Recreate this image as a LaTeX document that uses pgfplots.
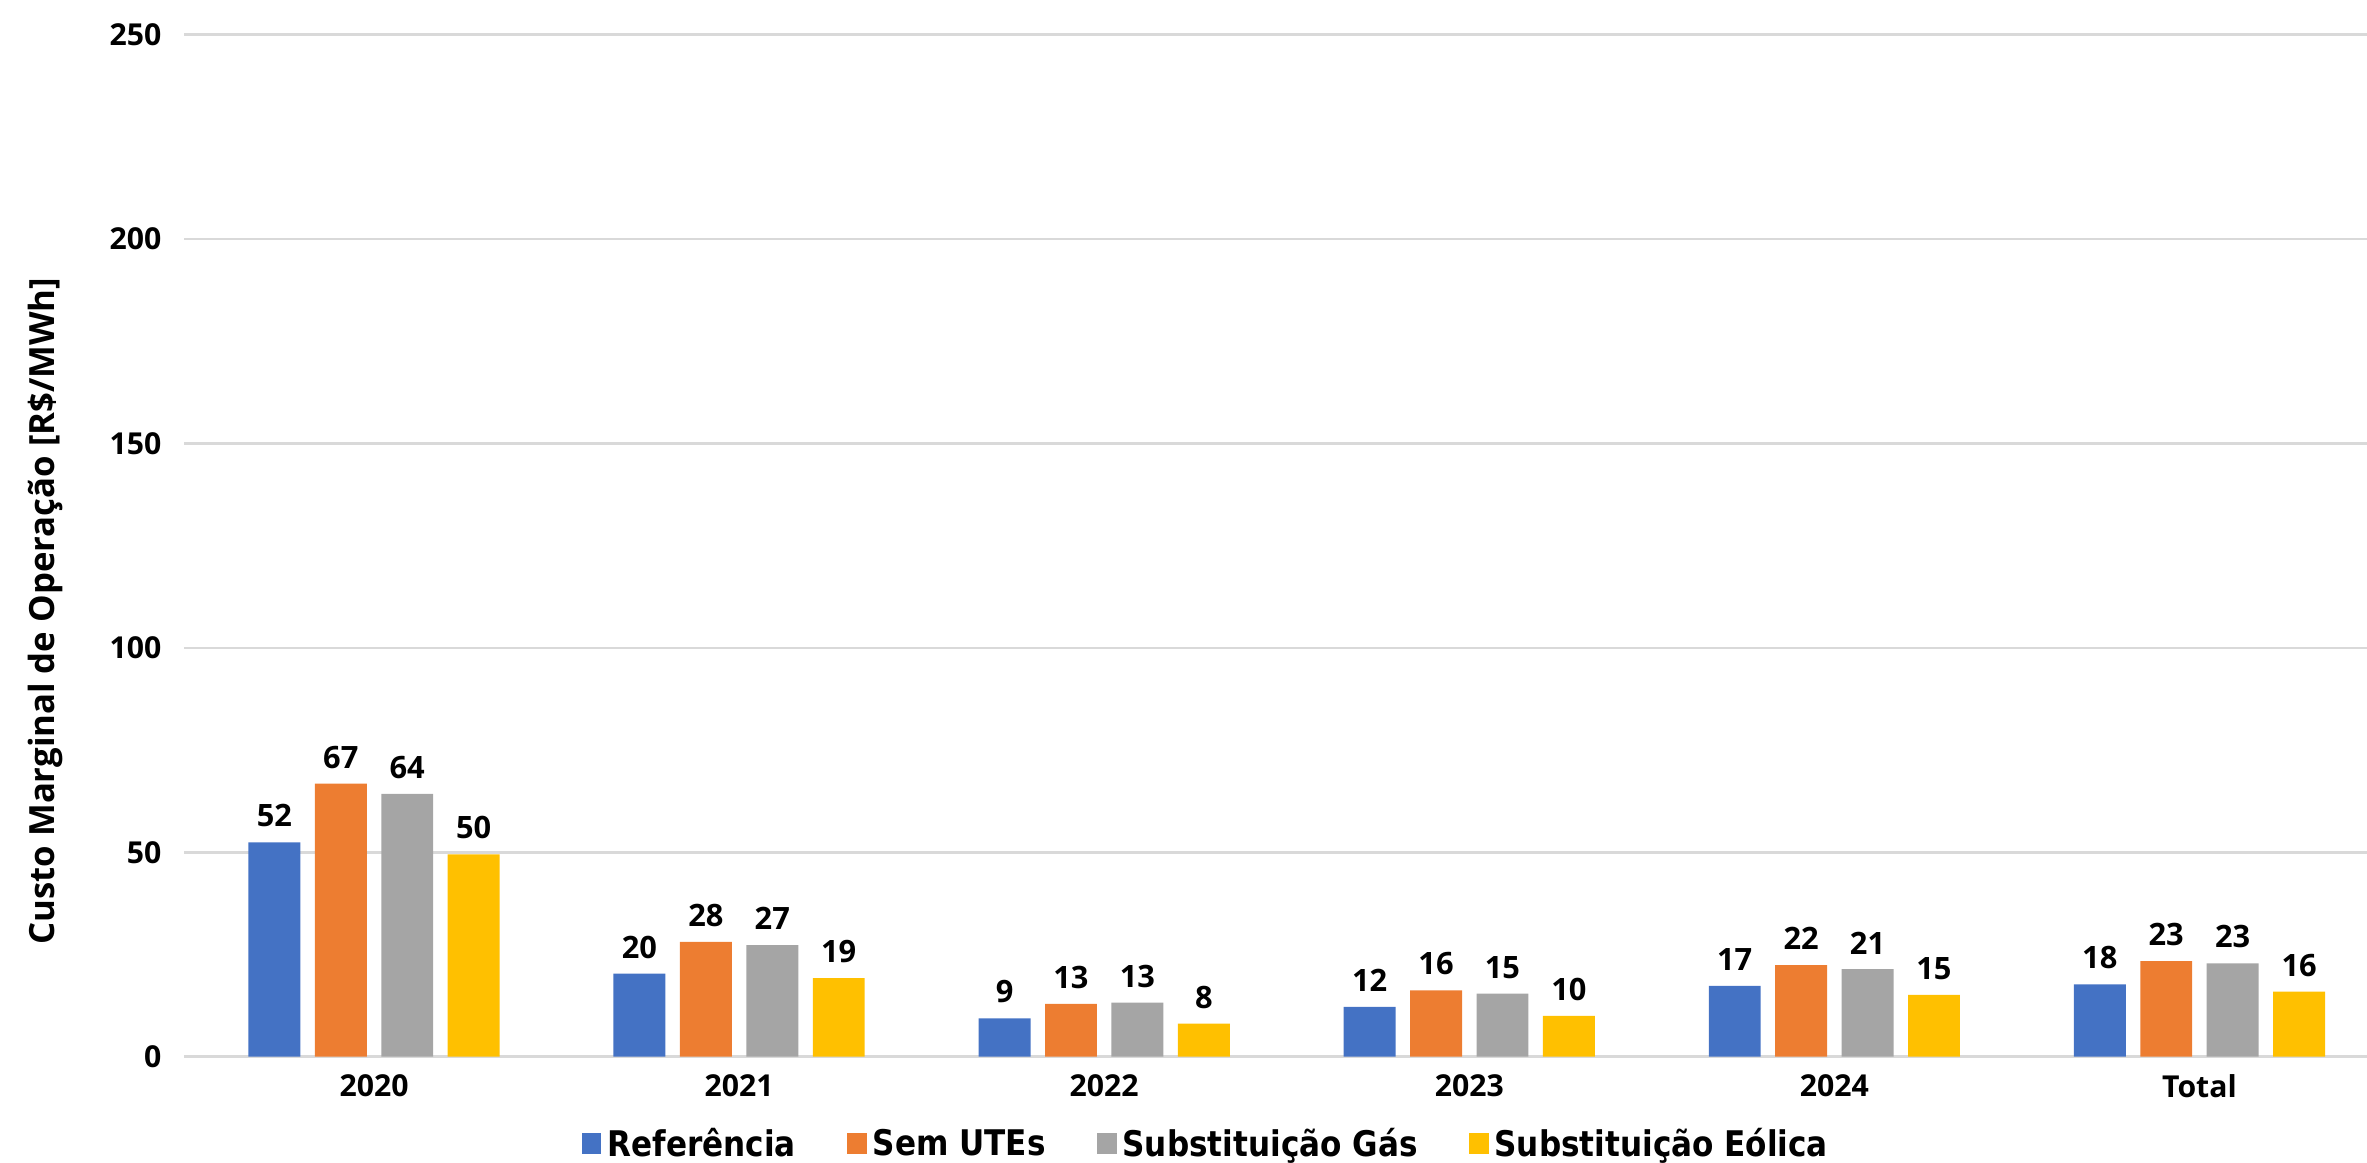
\documentclass[border=0pt]{standalone}
\usepackage{fontspec}
\setmainfont{Open Sans}
\newfontfamily\legfont{DejaVu Sans}[FakeStretch=0.88]
\usepackage{pgfplots}
\pgfplotsset{compat=1.18}

\definecolor{cRef}{HTML}{4472C4}
\definecolor{cSem}{HTML}{ED7D31}
\definecolor{cGas}{HTML}{A5A5A5}
\definecolor{cEol}{HTML}{FFC000}
\definecolor{gridc}{HTML}{D9D9D9}

\pgfplotstableread{
x ref  sem  gas  eol
0 52.4 66.8 64.3 49.5
1 20.3 28.1 27.3 19.2
2 9.4  12.9 13.2 8.1
3 12.2 16.2 15.4 10.0
4 17.3 22.4 21.4 15.1
5 17.7 23.4 22.8 15.9
}\cmo

\begin{document}
\begin{tikzpicture}
\begin{axis}[
    name=ax,
    at={(0,0)}, anchor=south west,
    scale only axis,
    width=723pt, height=338.5pt,
    ybar=4.8pt,
    bar width=17.2pt,
    xmin=-0.52, xmax=5.459,
    ymin=0, ymax=250,
    ytick={0,50,100,150,200,250},
    xtick={0,1,2,3,4,5},
    xticklabels={2020,2021,2022,2023,2024,Total},
    ymajorgrids=true,
    grid style={gridc, line width=0.9pt},
    axis line style={draw=none},
    major tick length=0pt,
    /pgf/number format/assume math mode=true,
    tick label style={font=\fontsize{10}{11}\selectfont\bfseries},
    yticklabel style={xshift=-4pt},
    xticklabel style={yshift=-2.5pt},
    ylabel={Custo Marginal de Operação [R\$/MWh]},
    ylabel style={font=\fontsize{11.5}{13}\selectfont\bfseries,
        at={(axis description cs:-0.0636,0.436)}, anchor=center},
    nodes near coords,
    nodes near coords style={font=\fontsize{10.2}{12}\selectfont\bfseries,
        /pgf/number format/fixed, /pgf/number format/precision=0, yshift=1.5pt},
    legend columns=4,
    legend style={draw=none, font=\legfont\fontsize{11.7}{13}\selectfont\bfseries,
        at={(axis description cs:0.469,-0.0857)}, anchor=center,
        /tikz/every even column/.append style={column sep=15pt}},
    legend image code/.code={\fill[#1] (0pt,-3.2pt) rectangle (6.5pt,3.6pt);},
]
\addplot[fill=cRef, draw=none] table[x=x, y=ref] {\cmo};
\addlegendentry{Referência}
\addplot[fill=cSem, draw=none] table[x=x, y=sem] {\cmo};
\addlegendentry{Sem UTEs}
\addplot[fill=cGas, draw=none] table[x=x, y=gas] {\cmo};
\addlegendentry{Substituição Gás}
\addplot[fill=cEol, draw=none] table[x=x, y=eol] {\cmo};
\addlegendentry{Substituição Eólica}
\end{axis}
\pgfresetboundingbox
\path[use as bounding box] (-61pt,-35pt) rectangle (723pt,350pt);
\end{tikzpicture}
\end{document}
